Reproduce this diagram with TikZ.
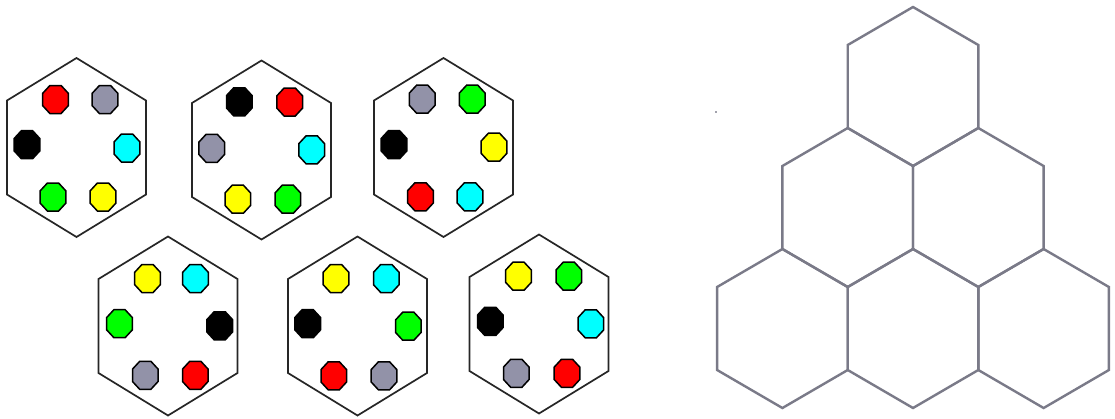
\documentclass[tikz,border=0pt]{standalone}
\definecolor{octred}{RGB}{255,0,0}
\definecolor{octgray}{RGB}{146,146,168}
\definecolor{octblack}{RGB}{0,0,0}
\definecolor{octcyan}{RGB}{0,255,255}
\definecolor{octgreen}{RGB}{0,255,0}
\definecolor{octyellow}{RGB}{255,255,0}
\definecolor{gridline}{RGB}{122,122,136}
\tikzset{
  hexleft/.style={draw=black!85, line width=1.7pt, line join=miter},
  hexright/.style={draw=gridline, line width=2.4pt, line join=miter},
  octo/.style={draw=black, line width=1.5pt, line join=miter},
}
% left hexagon: #1 name, #2 cx, #3 cy
\newcommand\hexL[3]{%
  \begin{scope}[shift={(#2,#3)}]
    \coordinate (#1) at (0,0);
    \draw[hexleft] (0,-89.5) -- (69.5,-47) -- (69.5,47) -- (0,89.5) -- (-69.5,47) -- (-69.5,-47) -- cycle;
  \end{scope}}
% right grid hexagon
\newcommand\hexR[3]{%
  \begin{scope}[shift={(#2,#3)}]
    \coordinate (#1) at (0,0);
    \draw[hexright] (0,-79.5) -- (65.3,-41.5) -- (65.3,41.5) -- (0,79.5) -- (-65.3,41.5) -- (-65.3,-41.5) -- cycle;
  \end{scope}}
% octagon: #1 name, #2 x, #3 y, #4 colour
\newcommand\octg[4]{%
  \begin{scope}[shift={(#2,#3)}]
    \coordinate (#1) at (0,0);
    \filldraw[octo, fill=#4] (-5.6,-14) -- (5.6,-14) -- (12.8,-6.2) -- (12.8,6.2) -- (5.6,14) -- (-5.6,14) -- (-12.8,6.2) -- (-12.8,-6.2) -- cycle;
  \end{scope}}
\begin{document}
\begin{tikzpicture}[x=1pt,y=-1pt]
\useasboundingbox (0,0) rectangle (1115,418);
\fill[white] (0,0) rectangle (1115,418);
% ---- left: six hexagons with coloured octagons
\hexL{h1}{76.5}{147.5}
\octg{h1a}{55.5}{99.5}{octred}
\octg{h1b}{105}{99.5}{octgray}
\octg{h1c}{27}{144.7}{octblack}
\octg{h1d}{127}{148}{octcyan}
\octg{h1e}{53}{197}{octgreen}
\octg{h1f}{103}{197}{octyellow}

\hexL{h2}{261.5}{150}
\octg{h2a}{239.3}{101.8}{octblack}
\octg{h2b}{289.7}{102}{octred}
\octg{h2c}{211.7}{148.3}{octgray}
\octg{h2d}{311.7}{149.8}{octcyan}
\octg{h2e}{237.8}{199.2}{octyellow}
\octg{h2f}{287.8}{199.2}{octgreen}

\hexL{h3}{443.5}{147.5}
\octg{h3a}{422.2}{99.2}{octgray}
\octg{h3b}{472.2}{99.2}{octgreen}
\octg{h3c}{394}{144.7}{octblack}
\octg{h3d}{494}{147.2}{octyellow}
\octg{h3e}{420.5}{196.8}{octred}
\octg{h3f}{470}{196.8}{octcyan}

\hexL{h4}{168}{326}
\octg{h4a}{147.5}{278.5}{octyellow}
\octg{h4b}{195.5}{278.5}{octcyan}
\octg{h4c}{119.5}{323.7}{octgreen}
\octg{h4d}{219.7}{325.8}{octblack}
\octg{h4e}{145.3}{375.3}{octgray}
\octg{h4f}{195.3}{375.3}{octred}

\hexL{h5}{357.5}{326}
\octg{h5a}{336}{278.5}{octyellow}
\octg{h5b}{386.3}{278.5}{octcyan}
\octg{h5c}{307.7}{323.7}{octblack}
\octg{h5d}{408.3}{326.2}{octgreen}
\octg{h5e}{333.8}{375.8}{octred}
\octg{h5f}{384}{375.8}{octgray}

\hexL{h6}{539}{324}
\octg{h6a}{518.5}{276.2}{octyellow}
\octg{h6b}{568.8}{276.2}{octgreen}
\octg{h6c}{490.3}{321.3}{octblack}
\octg{h6d}{590.8}{323.8}{octcyan}
\octg{h6e}{516.3}{373.3}{octgray}
\octg{h6f}{567}{373.3}{octred}

% ---- right: triangular honeycomb
\hexR{g1}{913}{86.5}
\hexR{g2}{847.7}{207.5}
\hexR{g3}{978.3}{207.5}
\hexR{g4}{782.4}{328.5}
\hexR{g5}{913}{328.5}
\hexR{g6}{1043.6}{328.5}
% stray dot
\fill[gridline!70] (715.2,111.2) rectangle (716.8,112.8);
\end{tikzpicture}
\end{document}
